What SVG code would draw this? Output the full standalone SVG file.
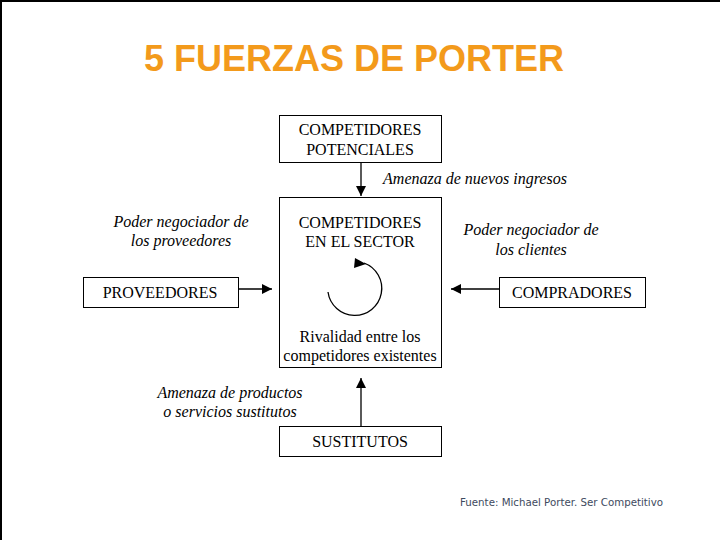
<svg xmlns="http://www.w3.org/2000/svg" width="720" height="540" viewBox="0 0 720 540">
<defs>
<style>
.box{fill:#fff;stroke:#000;stroke-width:1}
.t{font-family:"Liberation Serif","Times New Roman",serif;font-size:16px;fill:#000;text-anchor:middle}
.i{font-family:"Liberation Serif","Times New Roman",serif;font-size:16px;font-style:italic;fill:#000;text-anchor:middle}
.c{stroke:#000;stroke-width:1.3;fill:none}
</style>
<marker id="ah" viewBox="0 0 10 10" refX="10" refY="5" markerWidth="10" markerHeight="10" markerUnits="userSpaceOnUse" orient="auto">
<path d="M0,0 L10,5 L0,10 z" fill="#000"/>
</marker>
</defs>
<rect width="720" height="540" fill="#fff"/>
<path d="M1,540 V1 H720" stroke="#000" stroke-width="2" fill="none"/>
<text x="354" y="71" font-family="'Liberation Sans',Arial,sans-serif" font-size="36" font-weight="bold" fill="#F39A1B" text-anchor="middle">5 FUERZAS DE PORTER</text>

<g id="potenciales">
<rect class="box" x="279.5" y="115.5" width="162" height="47"/>
<text class="t" x="360" y="135">COMPETIDORES</text>
<text class="t" x="360" y="155">POTENCIALES</text>
</g>
<g id="sector">
<rect class="box" x="279.5" y="197.5" width="162" height="170"/>
<text class="t" x="360" y="228">COMPETIDORES</text>
<text class="t" x="360" y="247">EN EL SECTOR</text>
<text class="t" x="360" y="342">Rivalidad entre los</text>
<text class="t" x="360" y="361">competidores existentes</text>
</g>
<g id="proveedores">
<rect class="box" x="83.5" y="277.5" width="155" height="30"/>
<text class="t" x="160" y="298">PROVEEDORES</text>
</g>
<g id="compradores">
<rect class="box" x="499.5" y="277.5" width="146" height="30"/>
<text class="t" x="572" y="298">COMPRADORES</text>
</g>
<g id="sustitutos">
<rect class="box" x="279.5" y="426.5" width="162" height="30"/>
<text class="t" x="360" y="447">SUSTITUTOS</text>
</g>

<g id="connectors">
<line class="c" x1="361" y1="163" x2="361" y2="196" marker-end="url(#ah)"/>
<line class="c" x1="239" y1="289" x2="272" y2="289" marker-end="url(#ah)"/>
<line class="c" x1="499" y1="289" x2="451" y2="289" marker-end="url(#ah)"/>
<line class="c" x1="361" y1="426" x2="361" y2="378" marker-end="url(#ah)"/>
<path class="c" d="M328,292 A27,27 0 1,0 364,263" />
<path d="M366,264 L355,258 L354,268 z" fill="#000"/>
</g>

<g id="labels">
<text class="i" x="475" y="184">Amenaza de nuevos ingresos</text>
<text class="i" x="181" y="227">Poder negociador de</text>
<text class="i" x="181" y="246">los proveedores</text>
<text class="i" x="531" y="235">Poder negociador de</text>
<text class="i" x="531" y="255">los clientes</text>
<text class="i" x="230" y="398">Amenaza de productos</text>
<text class="i" x="230" y="417">o servicios sustitutos</text>
</g>
<text x="460" y="506" font-family="'DejaVu Sans',Verdana,sans-serif" font-size="10" fill="#3E4A5E" textLength="203" lengthAdjust="spacingAndGlyphs">Fuente: Michael Porter. Ser Competitivo</text>
</svg>
